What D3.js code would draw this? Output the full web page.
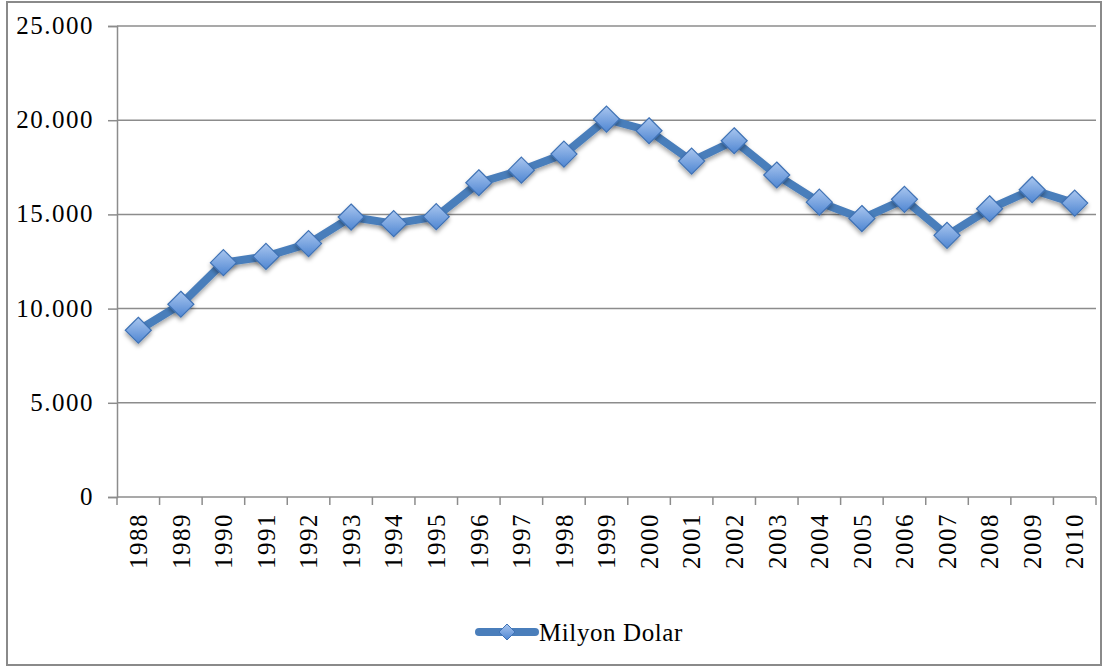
<!DOCTYPE html>
<html>
<head>
<meta charset="utf-8">
<script src="https://cdn.jsdelivr.net/npm/d3@7"></script>
<style>
  body { margin: 0; background: #fff; }
  text { font-family: "Liberation Serif", serif; fill: #000; }
</style>
</head>
<body>
<div id="chart"></div>
<script>
// Data
var years = ["1988","1989","1990","1991","1992","1993","1994","1995","1996","1997","1998","1999",
             "2000","2001","2002","2003","2004","2005","2006","2007","2008","2009","2010"];
var values = [8850, 10230, 12440, 12770, 13450, 14860, 14510, 14880, 16680, 17350, 18200, 20060,
              19440, 17830, 18910, 17090, 15650, 14780, 15800, 13890, 15300, 16310, 15600];
var yTicks = [0, 5000, 10000, 15000, 20000, 25000];
var seriesName = "Milyon Dolar";

var width = 1104, height = 668;
var plot = { left: 117, right: 1096, top: 26, bottom: 497 };

var locale = d3.formatLocale({ decimal: ",", thousands: ".", grouping: [3], currency: ["", ""] });
var fmt = locale.format(",");

var svg = d3.select("#chart").append("svg")
  .attr("width", width)
  .attr("height", height);

// gradient + shadow for the diamond markers
var defs = svg.append("defs");
var grad = defs.append("linearGradient")
  .attr("id", "mk").attr("x1", 0).attr("y1", 0).attr("x2", 0).attr("y2", 1);
grad.append("stop").attr("offset", "0%").attr("stop-color", "#a9c6ef");
grad.append("stop").attr("offset", "100%").attr("stop-color", "#4f86d2");
var shadow = defs.append("filter").attr("id", "sh")
  .attr("x", "-50%").attr("y", "-50%").attr("width", "200%").attr("height", "200%");
shadow.append("feDropShadow").attr("dx", 0).attr("dy", 3).attr("stdDeviation", 2)
  .attr("flood-color", "#000").attr("flood-opacity", 0.35);

// outer frame
svg.append("rect")
  .attr("x", 7).attr("y", 2)
  .attr("width", 1094).attr("height", 663)
  .attr("fill", "#fff")
  .attr("stroke", "#8a8a8a")
  .attr("stroke-width", 2);

var x = d3.scaleBand().domain(years).range([plot.left, plot.right]);
var y = d3.scaleLinear().domain([0, 25000]).range([plot.bottom, plot.top]);

// gridlines
svg.append("g").selectAll("line")
  .data(yTicks.filter(d => d > 0))
  .enter().append("line")
  .attr("x1", plot.left).attr("x2", plot.right)
  .attr("y1", d => y(d)).attr("y2", d => y(d))
  .attr("stroke", "#8c8c8c")
  .attr("stroke-width", 1.5);

// y axis
var yAxis = svg.append("g")
  .attr("transform", "translate(" + plot.left + ",0)")
  .call(d3.axisLeft(y).tickValues(yTicks).tickFormat(fmt).tickSize(9).tickPadding(14));
yAxis.select(".domain").attr("stroke", "#8c8c8c").attr("stroke-width", 1.5);
yAxis.selectAll(".tick line").attr("stroke", "#8c8c8c").attr("stroke-width", 1.5);
yAxis.selectAll(".tick text")
  .attr("font-family", "Liberation Serif")
  .attr("font-size", 25)
  .attr("letter-spacing", 1.5)
  .attr("dy", "0.3em");

// x axis: line and ticks at category boundaries
var xg = svg.append("g");
xg.append("line")
  .attr("x1", plot.left).attr("x2", plot.right)
  .attr("y1", y(0)).attr("y2", y(0))
  .attr("stroke", "#8c8c8c").attr("stroke-width", 1.5);
xg.selectAll(".xt")
  .data(years.map(d => x(d)).concat([plot.right]))
  .enter().append("line")
  .attr("class", "xt")
  .attr("x1", d => d).attr("x2", d => d)
  .attr("y1", y(0)).attr("y2", y(0) + 8)
  .attr("stroke", "#8c8c8c").attr("stroke-width", 1.5);
xg.selectAll("text")
  .data(years)
  .enter().append("text")
  .attr("transform", d => "translate(" + (x(d) + x.bandwidth() / 2) + "," + (y(0) + 16) + ") rotate(-90)")
  .attr("text-anchor", "end")
  .attr("dy", "0.35em")
  .attr("font-size", 25)
  .attr("letter-spacing", 1.5)
  .text(d => d);

// series line
var line = d3.line()
  .x((d, i) => x(years[i]) + x.bandwidth() / 2)
  .y(d => y(d));

svg.append("path")
  .datum(values)
  .attr("d", line)
  .attr("fill", "none")
  .attr("stroke", "#4a7ebb")
  .attr("stroke-width", 8)
  .attr("stroke-linejoin", "round")
  .attr("filter", "url(#sh)");

function diamond(r) {
  return "M0," + (-r) + "L" + r + ",0L0," + r + "L" + (-r) + ",0Z";
}

svg.append("g").selectAll("path")
  .data(values)
  .enter().append("path")
  .attr("transform", (d, i) => "translate(" + (x(years[i]) + x.bandwidth() / 2) + "," + y(d) + ")")
  .attr("d", diamond(13))
  .attr("fill", "url(#mk)")
  .attr("stroke", "#3f72b5")
  .attr("stroke-width", 1.2)
  .attr("filter", "url(#sh)");

// legend
var lg = svg.append("g").attr("transform", "translate(477,632)");
lg.append("line")
  .attr("x1", 2).attr("x2", 58)
  .attr("stroke", "#4a7ebb")
  .attr("stroke-width", 8)
  .attr("stroke-linecap", "round");
lg.append("path")
  .attr("transform", "translate(30,0)")
  .attr("d", diamond(8))
  .attr("fill", "url(#mk)")
  .attr("stroke", "#3f72b5")
  .attr("stroke-width", 1);
lg.append("text")
  .attr("x", 62)
  .attr("dy", "0.35em")
  .attr("font-size", 25)
  .attr("letter-spacing", 0.6)
  .text(seriesName);
</script>
</body>
</html>
